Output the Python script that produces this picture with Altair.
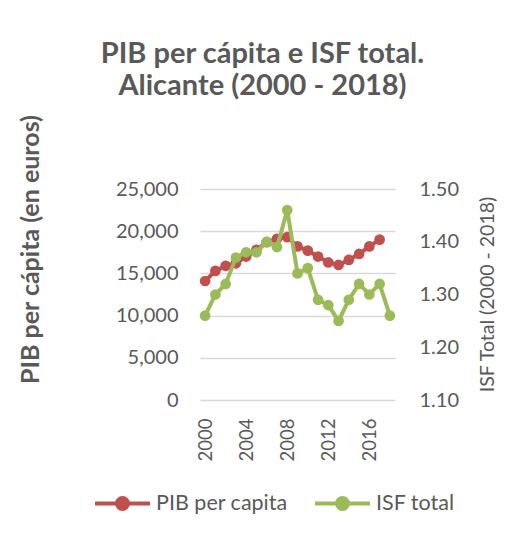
import altair as alt
import pandas as pd

years = list(range(2000, 2019))
pib_years = list(range(2000, 2018))
pib = [14100, 15300, 15900, 16200, 17000, 17800, 18700, 19100, 19300,
       18200, 17700, 17000, 16300, 16000, 16600, 17300, 18200, 19000]
isf = [1.26, 1.30, 1.32, 1.37, 1.38, 1.38, 1.40, 1.39, 1.46, 1.34,
       1.35, 1.29, 1.28, 1.25, 1.29, 1.32, 1.30, 1.32, 1.26]
series = ["PIB per capita", "ISF total"]
colors = ["#C0504D", "#9BBB59"]
x_ticks = [2000, 2004, 2008, 2012, 2016]

df_pib = pd.DataFrame({"year": pib_years, "value": pib, "serie": series[0]})
df_isf = pd.DataFrame({"year": years, "value": isf, "serie": series[1]})

FONT = "Lato"
GREY = "#595959"

xenc = alt.X("year:O", scale=alt.Scale(type="point", padding=0.5, domain=years),
             axis=alt.Axis(values=x_ticks, labelAngle=270, labelAlign="right",
                           labelBaseline="middle", labelPadding=18, title=None,
                           domain=False, ticks=False, labelFontSize=18.5))

leg = alt.Legend(
    title=None, orient="none", direction="horizontal",
    legendX=-107, legendY=285,
    symbolType="M-1,0L1,0M0.2,0A0.2,0.2 0 1,1 -0.2,0A0.2,0.2 0 1,1 0.2,0Z",
    symbolSize=3025, symbolStrokeWidth=4,
    labelFontSize=21.5, labelColor=GREY, labelFont=FONT,
    columnPadding=19, labelOffset=4)

cscale = alt.Scale(domain=series, range=colors)
stroke = alt.Stroke("serie:N", scale=cscale, legend=leg)
fill = alt.Fill("serie:N", scale=cscale, legend=leg)

y_left = alt.Y("value:Q", scale=alt.Scale(domain=[0, 25000]),
               axis=alt.Axis(values=[0, 5000, 10000, 15000, 20000, 25000], format=",.0f",
                             title="PIB per cápita (en euros)", titleFontWeight="bold",
                             titleFontSize=25, titleX=-170, titleY=60, titleAlign="center",
                             titleBaseline="middle", titleAngle=270,
                             grid=True, gridColor="#D9D9D9", gridWidth=1.5,
                             domain=False, ticks=False, labelPadding=22, labelFontSize=20))
y_right = alt.Y("value:Q", scale=alt.Scale(domain=[1.10, 1.50]),
                axis=alt.Axis(orient="right", values=[1.1, 1.2, 1.3, 1.4, 1.5], format=".2f",
                              title="ISF Total (2000 - 2018)", titleFontWeight="normal",
                              titleFontSize=19.5, titleAngle=270, titleX=92, titleY=105,
                              titleAlign="center", titleBaseline="middle",
                              grid=False, domain=False, ticks=False, labelPadding=24,
                              labelFontSize=20))

def series_layer(df, yenc):
    base = alt.Chart(df).encode(x=xenc, y=yenc)
    line = base.mark_line(strokeWidth=4).encode(stroke=stroke)
    pts = base.mark_point(filled=True, size=115, opacity=1, strokeWidth=0).encode(fill=fill, stroke=stroke)
    return alt.layer(line, pts)

chart = alt.layer(series_layer(df_pib, y_left), series_layer(df_isf, y_right)).resolve_scale(
    y="independent").properties(
    width=195, height=211,
    autosize=alt.AutoSizeParams(type="none"),
    padding={"left": 192, "top": 181, "right": 121, "bottom": 126},
    title=alt.TitleParams(["PIB per cápita e ISF total.", "Alicante (2000 - 2018)"],
                          fontSize=29, font=FONT, fontWeight="bold", color=GREY,
                          anchor="middle", dx=-35, offset=13, lineHeight=32),
).configure_axis(
    labelFont=FONT, titleFont=FONT, labelColor=GREY, titleColor=GREY,
).configure_view(stroke=None)

chart.save("out.html", embed_options={"renderer": "svg", "actions": False})
